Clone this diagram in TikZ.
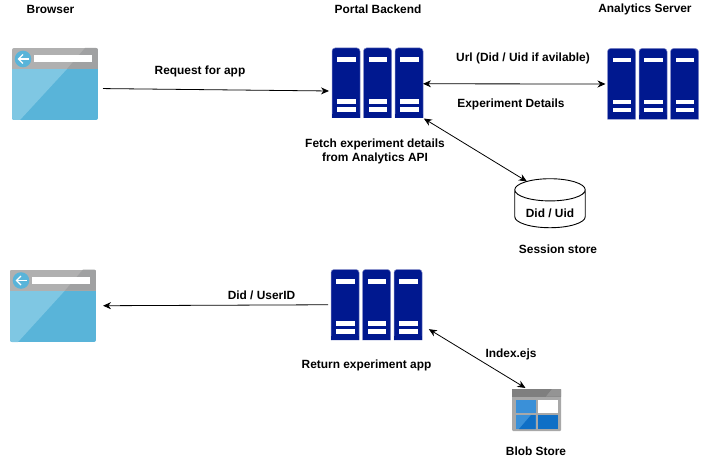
\documentclass[tikz,border=0pt]{standalone}
\usepackage{fontspec}
\setmainfont{Liberation Sans}
\usetikzlibrary{shapes.geometric,arrows.meta}
\definecolor{srvblue}{HTML}{00188F}
\definecolor{srvedge}{HTML}{8088C7}
\definecolor{skyblue}{HTML}{59B4D9}
\definecolor{skylight}{HTML}{7FC7E3}
\definecolor{hdrgray}{HTML}{B0B0B0}
\definecolor{hdrdark}{HTML}{A0A1A2}
\definecolor{blobhead}{HTML}{7F7F7F}
\definecolor{blobcorner}{HTML}{949494}
\definecolor{blobbody}{HTML}{A8A8A8}
\definecolor{cellblue}{HTML}{3A90D8}
\definecolor{celldark}{HTML}{0F6FC6}
\tikzset{
  x=1pt,y=-1pt,
  label/.style={font=\fontsize{11.9}{14}\selectfont\bfseries,align=center,inner sep=0pt},
  link/.style={draw=black,line width=0.8pt,-{Stealth[length=8pt,width=7pt]}},
  linkboth/.style={draw=black,line width=0.8pt,{Stealth[length=8pt,width=7pt]}-{Stealth[length=8pt,width=7pt]}},
  iconbox/.style={draw=none,fill=none,inner sep=0pt,outer sep=0pt,rectangle},
  store/.style={draw=black,line width=0.9pt,cylinder,shape border rotate=90,aspect=0.46,fill=white,
    minimum width=70.5pt,minimum height=49pt,inner sep=0pt,outer sep=0pt,
    font=\fontsize{11.9}{14}\selectfont\bfseries},
}
% name, left, top, width, height
\newcommand{\browsericon}[5]{%
  \begin{scope}[shift={(#2,#3)}]
    \begin{scope}
      \clip[rounded corners=2pt] (0,0) rectangle (#4,#5);
      \fill[skyblue] (0,21) rectangle (#4,#5);
      \fill[skylight] (0,21) -- (55,21) -- (8,#5) -- (0,#5) -- cycle;
      \fill[hdrgray] (0,0) rectangle (#4,21);
      \fill[hdrdark] (73,0) -- (#4,0) -- (#4,21) -- (55,21) -- cycle;
    \end{scope}
    \fill[white] (22,7.5) rectangle (80,14);
    \fill[skyblue] (11,11) circle (8.3);
    \draw[white,line width=1.1pt] (6.5,11) -- (17,11);
    \draw[white,line width=1.1pt] (11,6.5) -- (6.5,11) -- (11,15.5);
  \end{scope}
  \node[iconbox,minimum width=#4pt,minimum height=#5pt] (#1) at ({#2+#4/2},{#3+#5/2}) {};
}
% left, top, height
\newcommand{\servercolumn}[3]{%
  \begin{scope}[shift={(#1,#2)}]
    \fill[srvblue,draw=srvedge,line width=0.5pt,rounded corners=3pt] (0,#3) -- (0,0) -- (28,0) -- (28,#3);
    \fill[srvblue] (0.3,#3-4) rectangle (27.7,#3);
    \fill[white] (5,9.5) rectangle (23.5,14);
    \fill[white] (5,51.5) rectangle (23.5,56);
    \fill[white] (5,59.5) rectangle (23.5,64);
  \end{scope}
}
\newcommand{\servericon}[4]{%
  \servercolumn{#2}{#3}{#4}%
  \servercolumn{#2+31.5}{#3}{#4}%
  \servercolumn{#2+63}{#3}{#4}%
  \node[iconbox,minimum width=91pt,minimum height=#4pt] (#1) at ({#2+45.5},{#3+#4/2}) {};
}
\begin{document}
\begin{tikzpicture}
\useasboundingbox (0,0) rectangle (708,462);
\browsericon{browserA}{12}{48}{86}{72}
\browsericon{browserB}{10}{269.5}{86}{72.5}
\servericon{portalA}{332}{48}{70}
\servericon{portalB}{331}{269.5}{70.5}
\servericon{analytics}{607.5}{48.5}{71}
\node[store] (session) at (550,209) {\raisebox{-8pt}[0pt][0pt]{Did / Uid}};
% blob store
\begin{scope}
  \fill[blobbody,rounded corners=1pt] (512,389) rectangle (561,431);
  \fill[blobhead] (512,389) rectangle (561,396.5);
  \fill[blobcorner] (552,389) -- (561,389) -- (561,396.5) -- (546,396.5) -- cycle;
  \fill[cellblue] (516,400) rectangle (535.5,413);
  \fill[white] (537.5,400) rectangle (558,413);
  \fill[cellblue] (516,415) rectangle (535.5,429);
  \fill[celldark] (537.5,415) rectangle (558,429);
  \fill[celldark] (519,429) -- (535.5,429) -- (535.5,415) -- (531,415) -- cycle;
\end{scope}
\node[iconbox,minimum width=49pt,minimum height=42pt] (blob) at (536.5,410) {};
\node[label] (t1) at (50.5,9) {Browser};
\node[label] (t2) at (378,9) {Portal Backend};
\node[label] (t3) at (645,9) {Analytics Server};
\node[label] (t4) at (200,71) {Request for app};
\node[label] (t5) at (523,58) {Url (Did / Uid if avilable)};
\node[label] (t6) at (511,104) {Experiment Details};
\node[label] (t7) at (375,151.3) {Fetch experiment details\\from Analytics API};
\node[label] (t8) at (558,249) {Session store};
\node[label] (t9) at (261.5,295) {Did / UserID};
\node[label] (t10) at (366.5,365) {Return experiment app};
\node[label] (t11) at (511,354) {Index.ejs};
\node[label] (t12) at (536,451) {Blob Store};
\draw[link,shorten <=5pt,shorten >=3pt] (browserA.-6.6) -- (portalA.190);
\draw[linkboth,shorten >=2pt] (portalA.-1) -- (analytics.west);
\draw[linkboth,shorten <=1pt] (portalA.south east) -- (session.130);
\draw[link,shorten <=3pt,shorten >=7pt] (portalB.west) -- (browserB.east);
\draw[linkboth,shorten <=8pt,shorten >=2pt] (portalB.-24.2) -- (blob.114);
\end{tikzpicture}
\end{document}
